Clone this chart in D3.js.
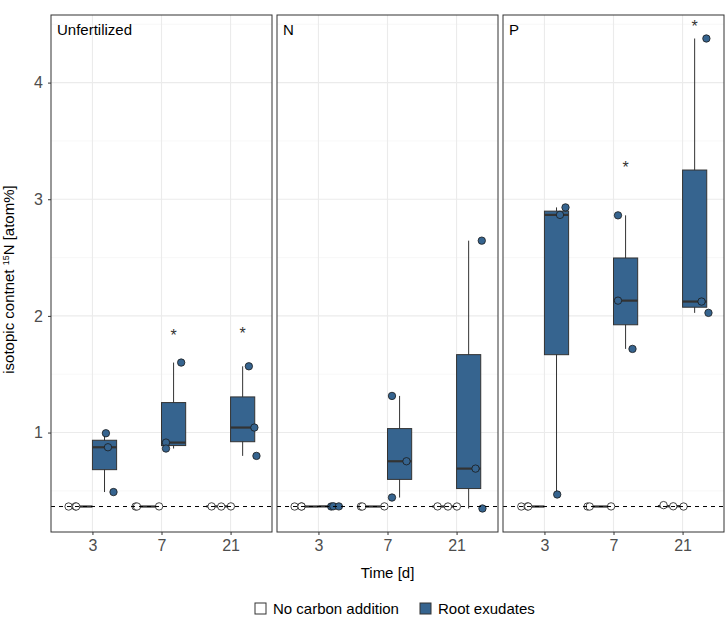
<!DOCTYPE html>
<html>
<head>
<meta charset="utf-8">
<script src="https://cdn.jsdelivr.net/npm/d3@7"></script>
<style>
  body { margin: 0; background: #fff; }
  svg text { font-family: "Liberation Sans", Arial, sans-serif; }
</style>
</head>
<body>
<svg id="chart" width="725" height="617"></svg>
<script>
const facets = ['Unfertilized', 'N', 'P'];
const days = ['3', '7', '21'];
const treatments = ['No carbon addition', 'Root exudates'];
const naturalAbundance = 0.366;

// three replicates per day (3, 7, 21)
const unfertCtrl = [[0.366, 0.367, 0.366], [0.366, 0.367, 0.366], [0.367, 0.366, 0.367]];
const unfertRoot = [[0.994, 0.874, 0.49], [1.60, 0.914, 0.863], [1.568, 1.043, 0.80]];
const nCtrl = [[0.366, 0.367, 0.366], [0.366, 0.367, 0.366], [0.367, 0.366, 0.366]];
const nRoot = [[0.366, 0.368, 0.367], [1.314, 0.754, 0.443], [2.645, 0.691, 0.349]];
const pCtrl = [[0.366, 0.367, 0.366], [0.366, 0.367, 0.366], [0.378, 0.368, 0.366]];
const pRoot = [[2.93, 2.866, 0.469], [2.862, 2.131, 1.717], [4.378, 2.123, 2.026]];

// jitter of each point (fraction of a day step)
const unfertCtrlJit = [[-0.17, -0.07, -0.06], [-0.2, 0.14, -0.18], [-0.1, 0.04, 0.18]];
const unfertRootJit = [[0.02, 0.05, 0.13], [0.11, -0.11, -0.11], [0.09, 0.17, 0.2]];
const nCtrlJit = [[-0.17, -0.07, -0.07], [-0.21, 0.13, -0.19], [-0.1, 0.05, 0.18]];
const nRootJit = [[0.01, 0.04, 0.12], [-0.11, 0.1, -0.11], [0.19, 0.1, 0.2]];
const pCtrlJit = [[-0.16, -0.07, -0.06], [-0.2, 0.14, -0.17], [-0.1, 0.04, 0.19]];
const pRootJit = [[0.13, 0.05, 0.01], [-0.11, -0.11, 0.1], [0.17, 0.1, 0.2]];

// significance stars
const sigFacet = ['Unfertilized', 'Unfertilized', 'P', 'P'];
const sigDay = ['7', '21', '7', '21'];
const sigY = [1.865, 1.882, 3.298, 4.509];

const yTicks = [1, 2, 3, 4];
const yMinor = [0.5, 1.5, 2.5, 3.5, 4.5];

const values = {
  'Unfertilized': [unfertCtrl, unfertRoot],
  'N': [nCtrl, nRoot],
  'P': [pCtrl, pRoot]
};
const jitters = {
  'Unfertilized': [unfertCtrlJit, unfertRootJit],
  'N': [nCtrlJit, nRootJit],
  'P': [pCtrlJit, pRootJit]
};

const fills = ['#ffffff', '#36648f'];
const plotTop = 15, plotBottom = 532;

const svg = d3.select('#chart');

const facetX = d3.scaleBand().domain(facets).range([51, 724]).paddingInner(5 / 226).paddingOuter(0);
const pw = facetX.bandwidth();
const x = d3.scalePoint().domain(days).range([0, pw]).padding(0.6);
const step = x.step();
// boxes sit side by side, each 0.35 of a step wide
const boxW = 0.35 * step;
const offset = t => (treatments.indexOf(t) === 0 ? -boxW / 2 : boxW / 2);

const allVals = Object.values(values).flat(3);
const [vmin, vmax] = d3.extent(allVals);
const pad = (vmax - vmin) * 0.05;
const y = d3.scaleLinear().domain([vmin - pad, vmax + pad]).range([plotBottom, plotTop]);

function stats(arr) {
  const s = arr.slice().sort(d3.ascending);
  const q1 = d3.quantile(s, 0.25), med = d3.quantile(s, 0.5), q3 = d3.quantile(s, 0.75);
  const iqr = q3 - q1;
  const lo = d3.min(s.filter(v => v >= q1 - 1.5 * iqr));
  const hi = d3.max(s.filter(v => v <= q3 + 1.5 * iqr));
  return { q1, med, q3, lo, hi };
}

facets.forEach(f => {
  const g = svg.append('g').attr('transform', `translate(${facetX(f)},0)`);

  // grid
  g.selectAll('.minor').data(yMinor).join('line')
    .attr('x1', 0).attr('x2', pw)
    .attr('y1', d => y(d)).attr('y2', d => y(d))
    .attr('stroke', '#f2f2f2').attr('stroke-width', 0.6);
  g.selectAll('.major').data(yTicks).join('line')
    .attr('x1', 0).attr('x2', pw)
    .attr('y1', d => y(d)).attr('y2', d => y(d))
    .attr('stroke', '#ebebeb').attr('stroke-width', 1.1);
  g.selectAll('.vmajor').data(days).join('line')
    .attr('x1', d => x(d)).attr('x2', d => x(d))
    .attr('y1', plotTop).attr('y2', plotBottom)
    .attr('stroke', '#ebebeb').attr('stroke-width', 1.1);

  // boxplots
  treatments.forEach((t, ti) => {
    days.forEach((d, di) => {
      const st = stats(values[f][ti][di]);
      const cx = x(d) + offset(t);
      g.append('line')
        .attr('x1', cx).attr('x2', cx)
        .attr('y1', y(st.hi)).attr('y2', y(st.lo))
        .attr('stroke', '#333').attr('stroke-width', 1);
      g.append('rect')
        .attr('x', cx - boxW / 2).attr('width', boxW)
        .attr('y', y(st.q3)).attr('height', Math.max(0, y(st.q1) - y(st.q3)))
        .attr('fill', fills[ti]).attr('stroke', '#333').attr('stroke-width', 1);
      g.append('line')
        .attr('x1', cx - boxW / 2).attr('x2', cx + boxW / 2)
        .attr('y1', y(st.med)).attr('y2', y(st.med))
        .attr('stroke', '#333').attr('stroke-width', 2.2);
    });
  });

  // jittered points
  treatments.forEach((t, ti) => {
    days.forEach((d, di) => {
      const pts = values[f][ti][di].map((v, i) => ({ v, j: jitters[f][ti][di][i] }));
      g.selectAll(null).data(pts).join('circle')
        .attr('cx', p => x(d) + offset(t) + p.j * step)
        .attr('cy', p => y(p.v))
        .attr('r', 3.7)
        .attr('fill', fills[ti])
        .attr('stroke', '#1a1a1a').attr('stroke-width', 0.8);
    });
  });

  // natural abundance reference
  g.append('line')
    .attr('x1', 0).attr('x2', pw)
    .attr('y1', y(naturalAbundance)).attr('y2', y(naturalAbundance))
    .attr('stroke', '#000').attr('stroke-width', 1).attr('stroke-dasharray', '4,4');

  // stars
  sigFacet.forEach((sf, i) => {
    if (sf !== f) return;
    g.append('text')
      .attr('x', x(sigDay[i]) + offset(treatments[1]))
      .attr('y', y(sigY[i]) + 9)
      .attr('text-anchor', 'middle')
      .attr('font-size', 16).attr('fill', '#333')
      .text('*');
  });

  // panel border
  g.append('rect')
    .attr('x', 0).attr('y', plotTop).attr('width', pw).attr('height', plotBottom - plotTop)
    .attr('fill', 'none').attr('stroke', '#333').attr('stroke-width', 1);

  // facet label inside panel
  g.append('text')
    .attr('x', 6).attr('y', 35)
    .attr('font-size', 15).attr('fill', '#000')
    .text(f);

  // x axis
  const xa = g.append('g').attr('transform', `translate(0,${plotBottom})`)
    .call(d3.axisBottom(x).tickSize(3).tickPadding(5));
  xa.select('.domain').remove();
  xa.selectAll('line').attr('stroke', '#333');
  xa.selectAll('text').attr('font-size', 16).attr('fill', '#4d4d4d')
    .attr('font-family', '"Liberation Sans", Arial, sans-serif');
});

// y axis
const ya = svg.append('g').attr('transform', `translate(${facetX(facets[0])},0)`)
  .call(d3.axisLeft(y).tickValues(yTicks).tickFormat(d3.format('d')).tickSize(3).tickPadding(5));
ya.select('.domain').remove();
ya.selectAll('line').attr('stroke', '#333');
ya.selectAll('text').attr('font-size', 16).attr('fill', '#4d4d4d')
  .attr('font-family', '"Liberation Sans", Arial, sans-serif');

// axis titles
svg.append('text')
  .attr('x', (51 + 724) / 2).attr('y', 578)
  .attr('text-anchor', 'middle').attr('font-size', 15).attr('fill', '#000')
  .text('Time [d]');

const yt = svg.append('text')
  .attr('transform', `translate(14,${(plotTop + plotBottom) / 2 + 6}) rotate(-90)`)
  .attr('text-anchor', 'middle').attr('font-size', 15).attr('fill', '#000');
yt.append('tspan').text('isotopic contnet ');
yt.append('tspan').attr('font-size', 9).attr('dy', -5).text('15');
yt.append('tspan').attr('dy', 5).text('N [atom%]');

// legend
const legX = [255, 420];
treatments.forEach((t, i) => {
  svg.append('rect')
    .attr('x', legX[i]).attr('y', 603).attr('width', 11).attr('height', 11)
    .attr('fill', fills[i]).attr('stroke', '#333').attr('stroke-width', 1);
  svg.append('text')
    .attr('x', legX[i] + 18).attr('y', 613.5)
    .attr('font-size', 15).attr('fill', '#000')
    .text(t);
});
</script>
</body>
</html>
